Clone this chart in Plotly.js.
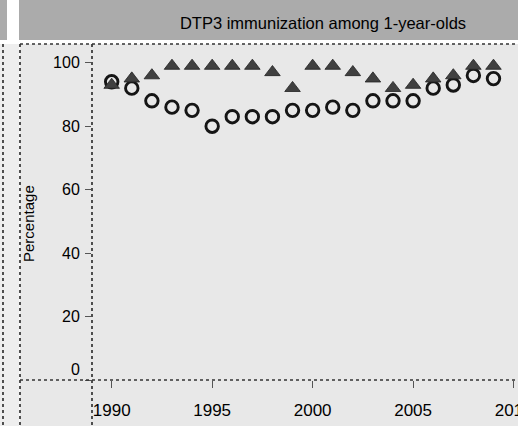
<!DOCTYPE html>
<html>
<head>
<meta charset="utf-8">
<script src="https://cdn.plot.ly/plotly-3.0.1.min.js"></script>
<style>
html, body { margin: 0; padding: 0; overflow: hidden; background: #ffffff; }
#chart { width: 518px; height: 426px; }
</style>
</head>
<body>
<div id="chart"></div>
<script>
// ---- data ----
const years = [1990,1991,1992,1993,1994,1995,1996,1997,1998,1999,2000,2001,2002,2003,2004,2005,2006,2007,2008,2009];
const circleValues   = [94,92,88,86,85,80,83,83,83,85,85,86,85,88,88,88,92,93,96,95];
const triangleValues = [93,95,96,99,99,99,99,99,97,92,99,99,97,95,92,93,95,96,99,99];
const yTickVals  = [0,20,40,60,80,100];
const yTickText  = ['', '20', '40', '60', '80', '100'];
const xTickVals  = [1990,1995,2000,2005,2010];
const chartTitle = 'DTP3 immunization among 1-year-olds';
const yTitle     = 'Percentage';

// ---- geometry (pixels of the 518x426 page) ----
const W = 518, H = 426;
const PL = 92, PR = 518, PT = 44, PB = 380;
const px = x => (x - PL) / (PR - PL);
const py = y => (PB - y) / (PB - PT);

const lineStyle = {color: '#333333', width: 1.7, dash: 'dot'};
const rect = (x0, y0, x1, y1, fill) => ({type: 'rect', xref: 'paper', yref: 'paper',
  x0: px(x0), x1: px(x1), y0: py(y1), y1: py(y0), fillcolor: fill, line: {width: 0}, layer: 'below'});
const seg = (x0, y0, x1, y1) => ({type: 'line', xref: 'paper', yref: 'paper',
  x0: px(x0), x1: px(x1), y0: py(y0), y1: py(y1), line: lineStyle, layer: 'above'});

const traces = [
  {x: years, y: circleValues, type: 'scatter', mode: 'markers', cliponaxis: false,
   marker: {symbol: 'circle-open', size: 12.5, color: '#151515', line: {width: 2.9, color: '#151515'}},
   showlegend: false, hoverinfo: 'x+y'},
  {x: years, y: triangleValues, type: 'scatter', mode: 'markers', cliponaxis: false,
   marker: {symbol: 'triangle-up', size: 13.5, color: '#404040', line: {width: 0.8, color: '#222222'}},
   showlegend: false, hoverinfo: 'x+y'}
];

const layout = {
  width: W, height: H,
  margin: {l: PL, r: W - PR, t: PT, b: H - PB, pad: 0},
  paper_bgcolor: '#ffffff',
  plot_bgcolor: 'rgba(0,0,0,0)',
  font: {family: 'Arial, "Liberation Sans", sans-serif', color: '#000000'},
  title: {text: chartTitle, font: {size: 16.5, color: '#000000', family: 'Arial, "Liberation Sans", sans-serif'},
          xref: 'paper', x: px(323), xanchor: 'center', yref: 'container', y: 1 - 23 / H, yanchor: 'middle'},
  xaxis: {range: [1989.02, 2010.22], tickmode: 'array', tickvals: xTickVals,
          ticks: 'outside', ticklen: 7, tickwidth: 1, tickcolor: '#555555',
          tickfont: {size: 17}, showgrid: false, zeroline: false, showline: false,
          ticklabelstandoff: 8, ticklabeloverflow: 'allow', fixedrange: true},
  yaxis: {range: [0, 100 + (62.7 - PT) / 3.165], tickmode: 'array', tickvals: yTickVals, ticktext: yTickText,
          ticks: 'outside', ticklen: 6, tickwidth: 1, tickcolor: '#555555',
          tickfont: {size: 16}, showgrid: false, zeroline: false, showline: false,
          ticklabelstandoff: 2, fixedrange: true},
  shapes: [
    rect(0, 0, 7, 40, '#ababab'),
    rect(0, 44, 19, 426, '#eeeeee'),
    rect(19, 0, 518, 40, '#ababab'),
    rect(20, 44, 518, 426, '#e8e8e8'),
    seg(3, 44, 3, 426),
    seg(20, 44, 20, 426),
    seg(20, 44, 518, 44),
    seg(92, 44, 92, 426),
    seg(20, 380, 518, 380)
  ],
  annotations: [
    {text: '0', xref: 'paper', yref: 'paper', x: px(82), y: py(369), xanchor: 'right', yanchor: 'middle',
     showarrow: false, font: {size: 16, color: '#000000'}},
    {text: yTitle, xref: 'paper', yref: 'paper', x: px(28), y: py(224), xanchor: 'center', yanchor: 'middle',
     textangle: -90, showarrow: false, font: {size: 15, color: '#000000'}}
  ]
};

Plotly.newPlot('chart', traces, layout, {staticPlot: true, displayModeBar: false});
</script>
</body>
</html>
